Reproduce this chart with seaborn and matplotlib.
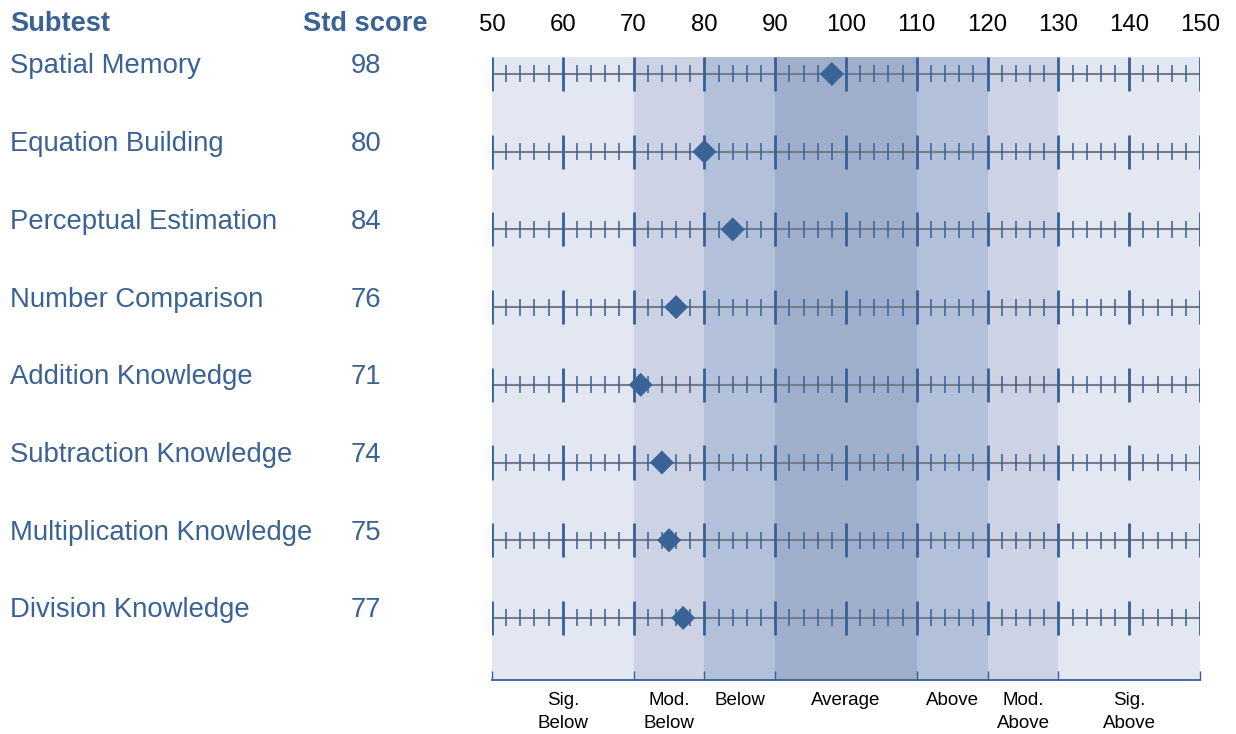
import matplotlib
matplotlib.use("Agg")
import matplotlib.pyplot as plt
import matplotlib.transforms as mtrans
import seaborn as sns
import pandas as pd

# ---------------- data ----------------
subtests = ["Spatial Memory", "Equation Building", "Perceptual Estimation",
            "Number Comparison", "Addition Knowledge", "Subtraction Knowledge",
            "Multiplication Knowledge", "Division Knowledge"]
scores = [98, 80, 84, 76, 71, 74, 75, 77]

major_ticks = [50, 60, 70, 80, 90, 100, 110, 120, 130, 140, 150]
minor_ticks = [52, 54, 56, 58, 62, 64, 66, 68, 72, 74, 76, 78, 82, 84, 86, 88,
               92, 94, 96, 98, 102, 104, 106, 108, 112, 114, 116, 118,
               122, 124, 126, 128, 132, 134, 136, 138, 142, 144, 146, 148]

band_edges = [50, 70, 80, 90, 110, 120, 130, 150]
band_labels = ["Sig.\nBelow", "Mod.\nBelow", "Below", "Average", "Above",
               "Mod.\nAbove", "Sig.\nAbove"]
band_colors = ["#e3e7f2", "#cdd3e5", "#b3c0da", "#9eaecb", "#b3c0da",
               "#cdd3e5", "#e3e7f2"]

# ---------------- style ----------------
sns.set_theme(style="white")
plt.rcParams["font.family"] = ["Liberation Sans", "DejaVu Sans"]

TXT = "#3a6294"
TICK = "#35609a"
W, H = 1236, 734

fig = plt.figure(figsize=(W / 100, H / 100), dpi=100)
top_px, bot_px = 57, 680
ax = fig.add_axes([492 / W, 1 - bot_px / H, 708 / W, (bot_px - top_px) / H])

row_px0, row_step = 74, 77.7
ylim_top = (top_px - row_px0) / row_step
ylim_bot = (bot_px - row_px0) / row_step
rows = list(range(len(subtests)))

# bands
for i in range(len(band_colors)):
    ax.axvspan(band_edges[i], band_edges[i + 1], color=band_colors[i], lw=0, zorder=0)

# row lines and ticks
maj_h = 17 / row_step
min_h = 8.5 / row_step
ax.hlines(rows, band_edges[0], band_edges[-1], color="#767d87", lw=1.5, zorder=2)
for r in rows:
    ax.vlines(major_ticks, r - maj_h, r + maj_h, color=TICK, lw=2.0, zorder=3)
    ax.vlines(minor_ticks, r - min_h, r + min_h, color=TICK, lw=1.1, zorder=3)

df = pd.DataFrame({"score": scores, "row": rows})
sns.scatterplot(data=df, x="score", y="row", marker="D", s=150, color="#3a6496",
                edgecolor="none", zorder=5, ax=ax, legend=False)

ax.set_xlim(band_edges[0], band_edges[-1])
ax.set_ylim(ylim_bot, ylim_top)
ax.set_xlabel("")
ax.set_ylabel("")
ax.set_yticks([])
ax.set_xticks(band_edges)
ax.set_xticklabels([])
ax.tick_params(axis="x", direction="in", length=6.5, width=1.0, color=TICK,
               bottom=True, top=False)
for s in ["top", "left", "right"]:
    ax.spines[s].set_visible(False)
ax.spines["bottom"].set_color(TICK)
ax.spines["bottom"].set_linewidth(1.3)

# top scale labels
tr_top = mtrans.blended_transform_factory(ax.transData, fig.transFigure)
for t in major_ticks:
    ax.text(t, 1 - 31 / H, str(t), transform=tr_top, ha="center", va="baseline",
            fontsize=17.3, color="black", clip_on=False)

# band labels
for i, lab in enumerate(band_labels):
    c = (band_edges[i] + band_edges[i + 1]) / 2
    ax.text(c, 1 - 692 / H, lab, transform=tr_top, ha="center", va="top",
            fontsize=13.5, color="black", linespacing=1.45, clip_on=False)

# left text
tr_left = mtrans.blended_transform_factory(fig.transFigure, ax.transData)
fig.text(10 / W, 1 - 24 / H, "Subtest", ha="left", va="center", fontsize=19.6,
         fontweight="bold", color=TXT)
fig.text(365 / W, 1 - 24 / H, "Std score", ha="center", va="center", fontsize=19.6,
         fontweight="bold", color=TXT)
off = 7.5 / row_step
for r, name, sc in zip(rows, subtests, scores):
    ax.text(10 / W, r - off, name, transform=tr_left, ha="left", va="center",
            fontsize=19.8, color=TXT, clip_on=False)
    ax.text(366 / W, r - off, str(sc), transform=tr_left, ha="center", va="center",
            fontsize=19.8, color=TXT, clip_on=False)

fig.savefig("out.png", dpi=100)
